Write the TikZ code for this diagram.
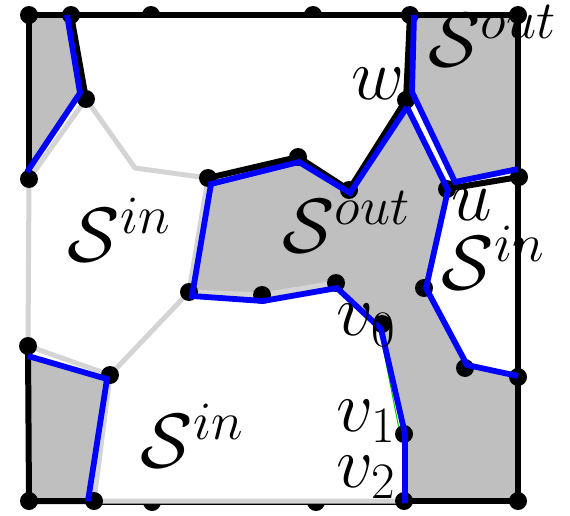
\documentclass[tikz,border=0pt]{standalone}
\usepackage{fix-cm}
\usetikzlibrary{calc}
\begin{document}
\begin{tikzpicture}[x=1pt,y=-1pt,
  blk/.style={line width=6pt,black,line join=round},
  thin/.style={line width=1.5pt,black},
  lg/.style={line width=5pt,black!17,line join=round},
  bl/.style={line width=5.8pt,blue,line join=miter},
  dot/.style={circle,fill=black,inner sep=0pt,minimum size=18pt},
  lab/.style={font=\fontsize{77}{80}\selectfont,inner sep=0pt},
  sm/.style={font=\fontsize{73}{80}\selectfont,inner sep=0pt}]
\useasboundingbox (0,0) rectangle (570,516);
% gray regions
\fill[black!25] (29,15) -- (68,15) -- (80,94) -- (29,172) -- cycle;
\fill[black!25] (410,15) -- (518,15) -- (518,169) -- (455,183) -- (412,94) -- cycle;
\fill[black!25] (208,178) -- (298,157) -- (349,190) -- (406,100) -- (448,190) -- (426,288) -- (467,365) -- (518,376) -- (518,501) -- (405,501) -- (405,434) -- (381,329) -- (338,288) -- (263,301) -- (192,296) -- cycle;
\fill[black!25] (29,356) -- (107,379) -- (88,501) -- (29,501) -- cycle;
% half dots on edges
\begin{scope}
\clip (0,0) rectangle (570,15);
\node[dot] (t1) at (151,15) {};
\node[dot] (t2) at (313,15) {};
\end{scope}
\begin{scope}
\clip (0,502) rectangle (570,516);
\node[dot] (b1) at (152,502) {};
\node[dot] (b2) at (316,502) {};
\end{scope}
% coordinates of vertices
\coordinate (A) at (29,15);
\coordinate (B) at (71,15);
\coordinate (E) at (410,15);
\coordinate (F) at (518,15);
\coordinate (G) at (86,99);
\coordinate (H) at (29,179);
\coordinate (I) at (208,178);
\coordinate (J) at (298,157);
\coordinate (K) at (349,190);
\coordinate (W) at (406,100);
\coordinate (U) at (447,189);
\coordinate (R1) at (519,177);
\coordinate (L) at (189,292);
\coordinate (M) at (262,295);
\coordinate (N) at (336,283);
\coordinate (V0) at (382,324);
\coordinate (P) at (424,288);
\coordinate (Q) at (465,368);
\coordinate (R2) at (518,377);
\coordinate (H2) at (28,346);
\coordinate (X) at (110,375);
\coordinate (V1) at (404,434);
\coordinate (V2) at (404,501);
\coordinate (BL) at (29,501);
\coordinate (BB) at (94,501);
\coordinate (BR) at (518,501);
\coordinate (GG) at (135,168);
% thin bottom border line
\draw[thin] ($(BB)+(0,3)$) -- ($(V2)+(0,3)$);
% light gray edges
\draw[lg] (G) -- (GG) -- (I);
\draw[lg] (H) -- (H2);
\draw[lg] (G) -- (H);
\draw[lg] (I) -- (L) -- (M) -- (N);
\draw[lg] (L) -- (X);
\draw[lg] (H2) -- (X) -- (BB) -- (V2);
\draw[lg] (V1) -- (V2);
% black edges
\draw[blk] (A) -- (F) -- (BR) -- (V2);
\draw[blk] (BB) -- (BL) -- (H2);
\draw[blk] (H) -- (A);
\draw[blk] (B) -- (G);
\draw[blk] (I) -- (J) -- (K) -- (W) -- (E);
\draw[blk] (U) -- (R1);
\draw[green!80!black,line width=1pt] ($(V0)+(-3,3)$) -- ($(V1)+(-4,0)$);
% dots
\foreach \p in {A,B,E,F,G,H,I,J,K,W,U,R1,L,M,N,V0,P,Q,R2,H2,X,V1,V2,BL,BB,BR}
  \node[dot] (d\p) at (\p) {};
% blue lines
\draw[bl] (67,15) -- (80,93) -- (27,172);
\draw[bl] (414,15) -- (412,92) -- (455,182) -- (518,169);
\draw[bl] (407,107) -- (448,190) -- (426,288) -- (467,365) -- (518,376);
\draw[bl] (407,107) -- (350,193) -- (299,162) -- (211,184) -- (192,296) -- (263,301) -- (337,288) -- (381,329) -- (405,434) -- (405,503);
\draw[bl] (28,356) -- (107,379) -- (88,501);
% labels
\node[lab] (l1) at (119,230) {$\mathcal{S}^{in}$};
\node[lab] (l2) at (492,36) {$\mathcal{S}^{out}$};
\node[lab] (l3) at (346,222) {$\mathcal{S}^{out}$};
\node[lab] (l4) at (493,258) {$\mathcal{S}^{in}$};
\node[lab] (l5) at (192,436) {$\mathcal{S}^{in}$};
\node[sm] (lw) at (378,84) {$w$};
\node[sm] (lu) at (472,205) {$u$};
\node[sm] (lv0) at (366,325) {$v_0$};
\node[sm] (lv1) at (366,421) {$v_1$};
\node[sm] (lv2) at (366,477) {$v_2$};
\end{tikzpicture}
\end{document}
